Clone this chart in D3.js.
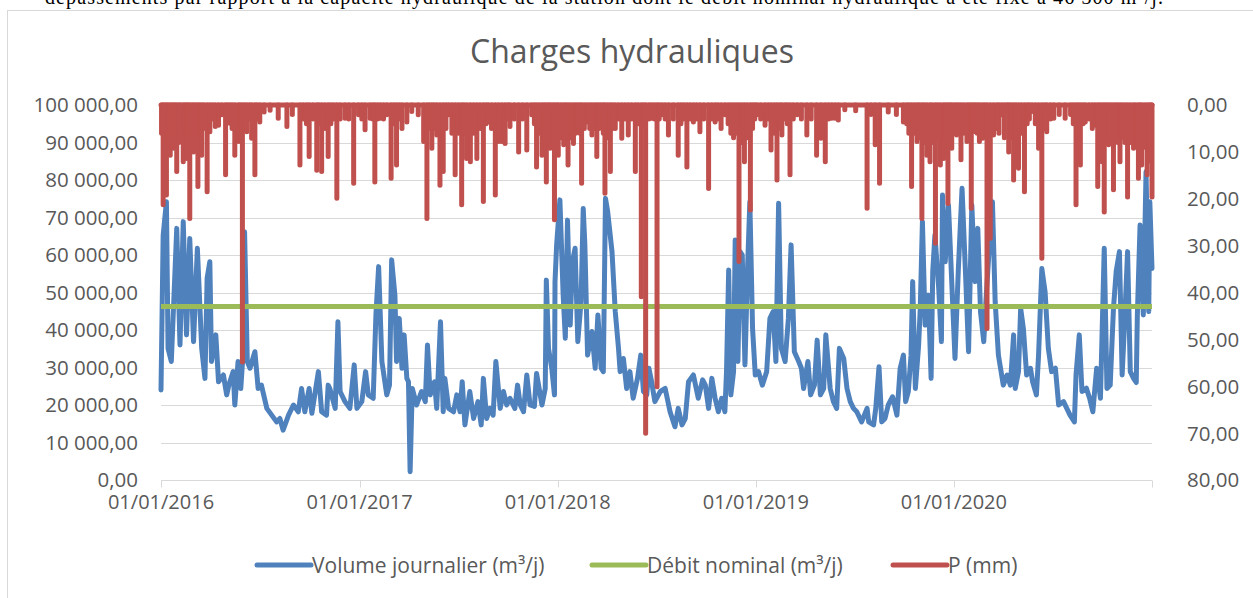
<!DOCTYPE html>
<html lang="fr">
  <head>
    <meta charset="utf-8">
    <title>Charges hydrauliques</title>
    <script src="https://d3js.org/d3.v7.min.js" charset="utf-8"></script>
    <style>
      body { margin: 0; background: #fff; }
      .lbl { font-family: 'Open Sans', sans-serif; fill: #595959; }
    </style>
  </head>
  <body>
    <script>
      var width = 1253,
      height = 598;

      // jour 0 = 01/01/2016, jour 1826 = 31/12/2020
      var startDate = new Date(Date.UTC(2016, 0, 1));
      var lastDay = 1826;

      var dateTicks = ["01/01/2016", "01/01/2017", "01/01/2018", "01/01/2019", "01/01/2020"];
      var volumeTicks = [0, 10000, 20000, 30000, 40000, 50000, 60000, 70000, 80000, 90000, 100000];
      var rainTicks = [0, 10, 20, 30, 40, 50, 60, 70, 80];
      var seriesNames = ["Volume journalier (m³/j)", "Débit nominal (m³/j)", "P (mm)"];
      var nominal = 46300;

      // [jour, volume m3/j]
      var volume = [[0,24000],[4,65300],[10,74200],[13,35100],[19,31600],[29,67100],[35,36000],[41,68900],[47,38700],[53,64400],[60,36900],[67,61800],[75,35100],[81,27100],[85,53800],[90,58200],[93,31600],[101,38700],[106,26200],[115,28000],[121,22700],[125,25300],[133,28900],[136,20000],[142,31600],[147,24400],[151,33300],[154,66200],[159,31600],[164,29800],[173,34200],[179,24400],[185,25300],[195,19100],[204,17300],[213,15500],[219,16400],[225,13300],[235,17300],[244,20000],[253,18200],[259,24400],[265,18200],[273,24400],[278,17800],[290,28900],[296,18200],[305,17300],[308,25300],
        [311,24400],[321,19100],[326,42200],[330,23600],[339,20900],[348,19100],[356,30700],[361,19100],[370,20900],[377,28900],[382,22700],[391,21800],[396,44000],[401,56900],[407,31600],[416,22700],[421,25300],[425,58700],[431,49300],[434,31600],[439,43100],[444,29800],[448,38700],[453,27100],[456,26200],[459,2200],[463,24400],[471,20000],[480,23600],[487,20900],[491,36000],[496,22700],[504,26200],[508,19100],[515,42200],[520,18200],[523,27100],[530,19100],[539,18200],[545,22700],[551,18200],[555,26200],[560,14700],[569,23600],[576,16400],[584,20900],[590,14700],[594,27100],[600,16400],[606,19100],[612,17300],[617,31600],
        [625,19100],[631,23600],[637,20000],[643,21800],[652,19100],[657,25300],[662,20000],[668,18200],[674,28000],[680,20000],[688,19600],[692,28400],[702,20000],[708,24400],[710,53300],[714,35100],[720,29800],[725,22700],[726,52900],[729,62700],[735,74700],[741,49300],[745,37800],[749,69300],[754,41300],[758,58200],[763,61800],[768,36900],[774,47600],[778,72400],[781,62700],[786,33300],[794,39600],[800,29800],[805,44000],[811,29800],[815,28900],[819,75100],[823,71600],[831,60900],[837,44900],[843,35100],[846,28900],[852,32400],[858,24400],[864,28900],[870,21800],[878,27100],[884,33300],[889,23600],[895,22700],[899,29800],[904,26200],[910,20900],[920,23600],[929,24400],
        [938,18200],[947,14200],[953,19100],[960,14700],[966,16400],[972,26200],[981,28000],[990,21800],[998,26700],[1003,25300],[1009,19100],[1015,27100],[1021,21800],[1027,18200],[1033,21800],[1039,18200],[1042,28900],[1046,56000],[1050,22700],[1055,28900],[1058,64000],[1063,31600],[1067,60900],[1071,60000],[1076,30700],[1081,57300],[1085,74200],[1090,40400],[1095,28000],[1101,28900],[1108,25300],[1116,28900],[1122,43100],[1128,44900],[1133,31600],[1138,73800],[1143,35100],[1150,31600],[1156,43100],[1161,62700],[1167,34200],[1175,31600],[1180,29800],[1184,24400],[1192,31600],[1197,22700],[1204,25300],[1209,37300],[1215,22700],[1221,24400],[1225,38700],[1233,24400],[1239,20900],[1245,19100],[1250,35100],
        [1258,32400],[1264,24400],[1270,20900],[1276,19100],[1282,18200],[1291,15500],[1301,19100],[1304,15500],[1313,14700],[1317,19100],[1323,30200],[1328,15500],[1334,16400],[1340,20000],[1348,22200],[1356,17300],[1362,29800],[1368,33300],[1372,20900],[1377,23600],[1382,33300],[1385,52900],[1390,24400],[1396,36000],[1399,45800],[1403,68900],[1408,41300],[1414,49300],[1419,27100],[1422,55600],[1426,65300],[1433,51100],[1438,36900],[1440,76000],[1445,58200],[1451,73300],[1457,52900],[1463,32400],[1469,55600],[1476,77800],[1483,52900],[1488,34200],[1494,73300],[1500,52900],[1505,67100],[1510,44900],[1516,36900],[1520,47600],[1526,61800],[1532,74200],[1537,47600],[1543,33300],
        [1552,25300],[1559,28000],[1565,25300],[1571,38700],[1574,24400],[1580,28900],[1584,45800],[1589,40400],[1595,28000],[1602,29800],[1606,26200],[1613,22700],[1617,33300],[1623,56400],[1629,50200],[1635,35100],[1641,28900],[1648,29800],[1654,20000],[1663,20900],[1669,19100],[1675,17300],[1683,15500],[1686,28000],[1692,38700],[1697,23600],[1705,24500],[1711,21800],[1717,18200],[1724,29800],[1731,21800],[1738,61800],[1743,24400],[1749,25300],[1755,45800],[1760,55600],[1766,60900],[1771,28000],[1775,40400],[1781,60900],[1786,28900],[1792,27100],[1797,26000],[1799,44000],[1804,68000],[1810,44000],[1815,82200],[1820,44900],[1822,74200],[1826,56400]];

      // [jour, pluie mm] (jours sans pluie = 0)
      var rain = [[1,6],[4,21.3],[7,8],[10,19.2],[13,7],[17,10.7],[20,6],[23,9.2],[26,7],[29,14.2],[33,8],[36,6],[41,12.1],[44,7],[47,11.4],[50,6],[53,24.2],[57,8],[60,10],[64,7],[68,17.4],[71,6],[75,10.7],[79,5],[85,18.5],[90,5.7],[95,3],[100,4.6],[106,4.3],[112,2.1],[119,14.9],[123,3],[127,3.9],[131,5],[136,10.7],[143,7.8],[146,4],[150,54.8],[154,5],[158,5.7],[163,3],[167,7.1],[173,14.9],[177,3],[182,3.6],[190,1.5],[201,1.1],[216,2.8],[232,4.6],[242,2],[256,12.8],[262,3],[268,4],[273,11],[280,3],[287,13.9],[291,4],[296,14.2],[302,5],[308,11],[313,4],[318,3],
        [324,19.9],[330,3],[339,2.8],[346,3],[355,16.7],[364,2.1],[370,3],[376,5.3],[385,2.8],[390,3],[394,16.4],[399,3],[404,2.8],[410,3],[416,2.1],[424,15.6],[429,4],[434,12.8],[439,3],[444,5],[453,3.6],[462,1.4],[474,2.1],[484,7.8],[490,24.2],[494,5],[499,9.2],[503,5],[508,6.4],[514,17.1],[520,14.2],[525,5],[530,2.1],[536,6],[542,14.9],[548,6],[554,21.3],[558,6],[563,11.4],[570,12.1],[576,6],[582,11.4],[588,5],[594,20.6],[599,4],[603,3.6],[609,5],[616,19.2],[622,7.8],
        [628,7.8],[634,8.2],[639,3],[643,4.6],[651,3],[659,10],[666,3],[674,9.6],[683,2.1],[688,4],[692,13.2],[697,6],[702,10.7],[706,7],[710,16.4],[714,8],[717,9.2],[721,7],[725,24.5],[729,8],[732,10.7],[737,7],[742,8.5],[746,6],[750,12.8],[755,7],[760,8.2],[764,6],[768,5.7],[772,6],[775,16.7],[780,5],[785,3.6],[790,5],[794,6.4],[799,5],[803,11],[807,5],[811,4.3],[815,6],[818,18.8],[823,7],[828,14.2],[832,5],[837,5],[843,3],[849,7.1],[855,3],[861,6.4],[867,3],[874,14.2],[879,4],[885,40.9],[889,4],[893,70],[899,3],[904,2.8],[909,3],[914,60.1],[918,3],[923,2.1],[929,3],[935,6.4],
        [944,3],[953,10.7],[958,4],[963,3],[969,13.2],[975,3],[981,3.6],[987,3],[993,5.7],[1000,3],[1009,17.8],[1015,3],[1021,3.6],[1026,3],[1032,5],[1039,2.1],[1045,4],[1050,6],[1055,7],[1060,6],[1065,33.4],[1070,8],[1075,12.1],[1080,7],[1086,22.4],[1090,5],[1094,3],[1098,2.1],[1105,3],[1113,4.3],[1119,3],[1124,9.6],[1130,6],[1135,16],[1140,5],[1144,6.4],[1150,3],[1154,4],[1159,14.9],[1165,3],[1172,2.1],[1180,3],[1190,6.4],[1198,3],[1208,10.7],[1216,7.1],[1224,12.1],[1230,3],[1236,2.8],[1242,2.8],[1248,3.2],
        [1260,1],[1280,1.2],[1301,22],[1308,2],[1316,8.5],[1324,16.7],[1340,1.5],[1355,2],[1368,3.6],[1374,4],[1378,6],[1383,17.4],[1388,6],[1393,7.8],[1397,7],[1402,24.2],[1406,8],[1411,10.7],[1417,12.1],[1421,8],[1427,29.5],[1431,7],[1436,12.8],[1442,11.4],[1446,7],[1450,21],[1454,6],[1457,9.2],[1462,6],[1466,6.4],[1470,5],[1474,11.7],[1479,6],[1485,7.8],[1489,6],[1493,22],[1497,5],[1500,5.7],[1504,6],[1508,7.8],[1514,7.1],[1518,6],[1522,47.7],[1528,28.4],[1534,6.4],[1540,5],[1544,6],[1549,2.1],
        [1554,7],[1559,1.4],[1562,10],[1566,7],[1571,16],[1575,8],[1580,13.5],[1585,6],[1591,18.5],[1596,4],[1600,3],[1605,1.4],[1611,4],[1617,9.2],[1623,32.7],[1628,5],[1632,5.7],[1639,3],[1645,2.8],[1655,2],[1666,2.8],[1676,2],[1681,4],[1686,21.3],[1690,6],[1694,12.8],[1699,4],[1703,3.6],[1710,3],[1716,5],[1721,4.3],[1726,17.4],[1730,8],[1734,12.1],[1738,22.8],[1742,8],[1746,8.5],[1750,7],[1755,18.1],[1759,7],[1763,8],[1767,12.1],[1771,7],[1776,8],[1781,19.6],[1786,8],[1792,9.2],[1796,8],[1801,15.6],[1804,9],[1807,12.8],[1812,9],[1817,14.9],[1821,10],[1824,12],[1826,19.6]];

      var colors = ["#4f81bd", "#9bbb59", "#c0504d"];

      var frLocale = d3.formatLocale({decimal: ",", thousands: " ", grouping: [3], currency: ["", " €"]});
      var fmt = frLocale.format(",.2f");
      var parseDate = d3.utcParse("%d/%m/%Y");
      function dayToDate(d) { return d3.utcDay.offset(startDate, d); }

      var x = d3.scaleUtc()
        .domain([startDate, dayToDate(lastDay)])
        .range([161, 1152]);
      var yVol = d3.scaleLinear().domain([0, 100000]).range([480, 105]);
      var yRain = d3.scaleLinear().domain([0, 80]).range([105, 480]);

      var svg = d3.select("body").append("svg")
        .attr("width", width)
        .attr("height", height);

      svg.append("rect").attr("width", width).attr("height", height).attr("fill", "#fff");

      // texte du document coupé au-dessus du graphique
      svg.append("text")
        .attr("x", 45).attr("y", 4)
        .attr("textLength", 1118).attr("lengthAdjust", "spacing")
        .style("font-family", "'Liberation Serif', serif")
        .style("font-size", "20px")
        .attr("fill", "#000")
        .text("dépassements par rapport à la capacité hydraulique de la station dont le débit nominal hydraulique a été fixé à 46 300 m³/j.");

      svg.append("rect")
        .attr("x", 7.5).attr("y", 10.5)
        .attr("width", 1300).attr("height", 700)
        .attr("fill", "none").attr("stroke", "#d9d9d9");

      svg.append("text")
        .attr("class", "lbl")
        .attr("x", 632).attr("y", 63)
        .attr("text-anchor", "middle")
        .style("font-size", "32px")
        .text("Charges hydrauliques");

      // quadrillage
      svg.append("g").selectAll("line")
        .data(volumeTicks.filter(function(v) { return v > 0; }))
        .enter().append("line")
        .attr("x1", x.range()[0]).attr("x2", x.range()[1])
        .attr("y1", function(d) { return Math.round(yVol(d)) + 0.5; })
        .attr("y2", function(d) { return Math.round(yVol(d)) + 0.5; })
        .attr("stroke", "#d9d9d9");

      // axe des dates
      var axisY = Math.round(yVol(0)) + 0.5;
      svg.append("line")
        .attr("x1", x.range()[0]).attr("x2", x.range()[1])
        .attr("y1", axisY).attr("y2", axisY)
        .attr("stroke", "#d9d9d9");
      var tickDates = dateTicks.map(parseDate).concat([dayToDate(lastDay)]);
      svg.append("g").selectAll("line")
        .data(tickDates)
        .enter().append("line")
        .attr("x1", function(d) { return Math.round(x(d)) + 0.5; })
        .attr("x2", function(d) { return Math.round(x(d)) + 0.5; })
        .attr("y1", axisY).attr("y2", axisY + 7)
        .attr("stroke", "#d9d9d9");
      svg.append("g").selectAll("text")
        .data(dateTicks)
        .enter().append("text")
        .attr("class", "lbl")
        .attr("x", function(d) { return x(parseDate(d)); })
        .attr("y", 509)
        .attr("text-anchor", "middle")
        .style("font-size", "20px")
        .text(function(d) { return d; });

      // axes verticaux
      svg.append("g").selectAll("text")
        .data(volumeTicks)
        .enter().append("text")
        .attr("class", "lbl")
        .attr("x", 138)
        .attr("y", function(d) { return yVol(d); })
        .attr("dy", "0.36em")
        .attr("text-anchor", "end")
        .style("font-size", "20.5px")
        .text(function(d) { return fmt(d); });

      svg.append("g").selectAll("text")
        .data(rainTicks)
        .enter().append("text")
        .attr("class", "lbl")
        .attr("x", 1187)
        .attr("y", function(d) { return yRain(d); })
        .attr("dy", "0.36em")
        .style("font-size", "20.5px")
        .text(function(d) { return fmt(d); });

      // volume journalier
      var volLine = d3.line()
        .x(function(d) { return x(dayToDate(d[0])); })
        .y(function(d) { return yVol(d[1]); });
      svg.append("path")
        .datum(volume)
        .attr("d", volLine)
        .attr("fill", "none")
        .attr("stroke", colors[0])
        .attr("stroke-width", 5)
        .attr("stroke-linejoin", "round")
        .attr("stroke-linecap", "round");

      // débit nominal
      svg.append("line")
        .attr("x1", x(startDate)).attr("x2", x(dayToDate(lastDay)))
        .attr("y1", yVol(nominal)).attr("y2", yVol(nominal))
        .attr("stroke", colors[1])
        .attr("stroke-width", 5);

      // pluie (axe inversé)
      svg.append("line")
        .attr("x1", x(startDate)).attr("x2", x(dayToDate(lastDay)))
        .attr("y1", yRain(0)).attr("y2", yRain(0))
        .attr("stroke", colors[2])
        .attr("stroke-width", 5)
        .attr("stroke-linecap", "round");
      svg.append("g").selectAll("line")
        .data(rain)
        .enter().append("line")
        .attr("x1", function(d) { return x(dayToDate(d[0])); })
        .attr("x2", function(d) { return x(dayToDate(d[0])); })
        .attr("y1", yRain(0))
        .attr("y2", function(d) { return yRain(d[1]); })
        .attr("stroke", colors[2])
        .attr("stroke-width", 5)
        .attr("stroke-linecap", "round");

      // légende
      var legendX = [257, 592, 893];
      var legend = svg.append("g").selectAll("g")
        .data(seriesNames)
        .enter().append("g")
        .attr("transform", function(d, i) { return "translate(" + legendX[i] + ",565)"; });
      legend.append("line")
        .attr("x1", 0).attr("x2", 54)
        .attr("stroke", function(d, i) { return colors[i]; })
        .attr("stroke-width", 5)
        .attr("stroke-linecap", "round");
      legend.append("text")
        .attr("class", "lbl")
        .attr("x", 55)
        .attr("dy", "0.36em")
        .style("font-size", "21px")
        .text(function(d) { return d; });
    </script>
  </body>
</html>
